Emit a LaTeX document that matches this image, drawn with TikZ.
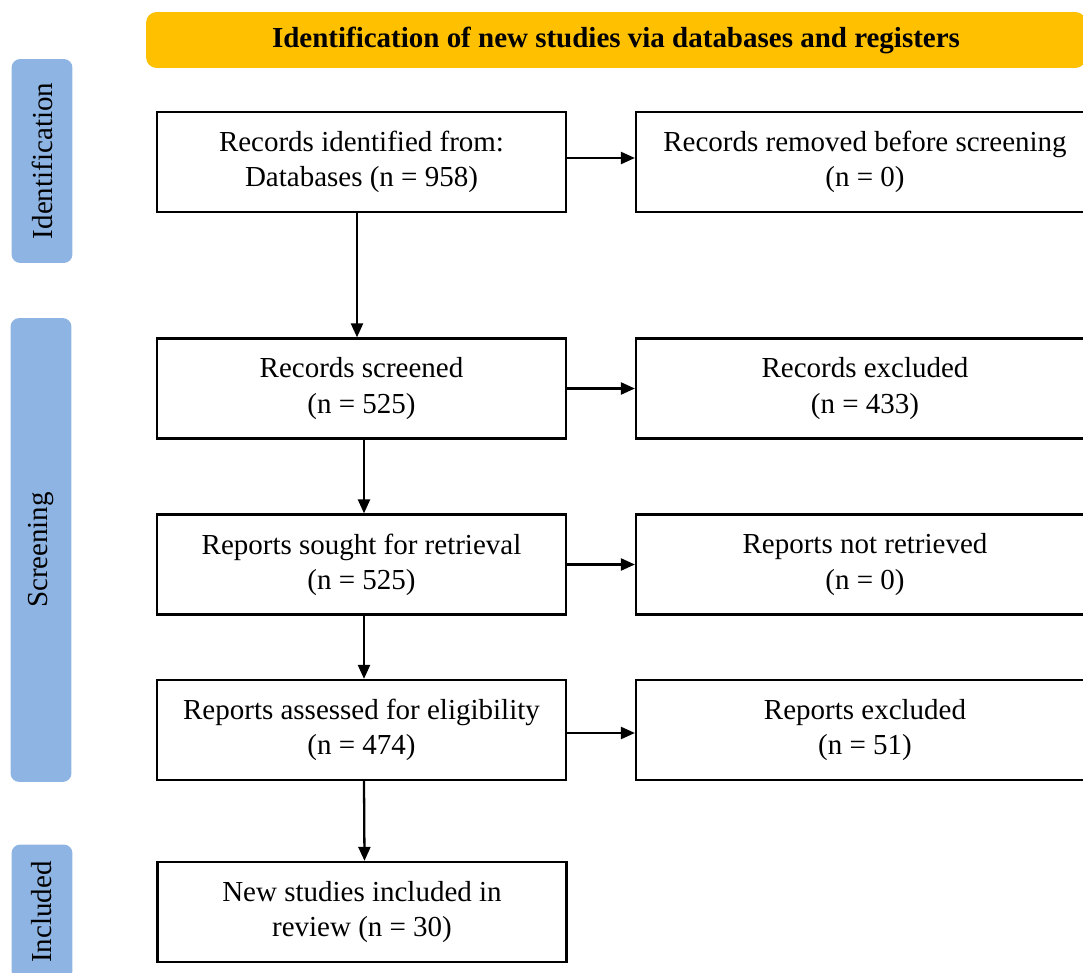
\documentclass[tikz,border=0pt]{standalone}
\usepackage{fontspec}
\setmainfont{Liberation Serif}
\usetikzlibrary{arrows.meta,positioning}
\definecolor{PrismaGold}{HTML}{FFC000}
\definecolor{PrismaBlue}{HTML}{8EB4E3}

\begin{document}
\begin{tikzpicture}[x=0.02cm,y=-0.02cm,
      >={Triangle[length=2.8mm,width=2.4mm]},
      flow/.style={->,line width=1.3pt},
      stagebox/.style={draw,line width=1.3pt,minimum width=8.18cm,
        minimum height=2cm,align=center,font=\fontsize{16.5}{20}\selectfont},
      sidebox/.style={stagebox,minimum width=9.16cm},
      phase/.style={fill=PrismaBlue,rounded corners=5pt,rotate=90,
        minimum height=1.22cm,inner sep=0pt,font=\fontsize{16.5}{20}\selectfont}
    ]
    \clip (0,0) rectangle (1083,973);

    \node[fill=PrismaGold,rounded corners=6pt,minimum width=18.8cm,
      minimum height=1.12cm,font=\fontsize{16.5}{20}\selectfont\bfseries]
      (banner) at (616,40) {Identification of new studies via databases and registers};

    \node[phase,minimum width=4.08cm] (pid) at (42,161) {Identification};
    \node[phase,minimum width=9.28cm] (pscr) at (41,550) {Screening};
    \node[phase,minimum width=2.7cm] (pinc) at (42,912) {Included};

    \node[stagebox] (records) at (361.5,162) {Records identified from:\\Databases (n = 958)};
    \node[sidebox] (removed) at (865,162) {Records removed before screening\\(n = 0)};
    \node[stagebox] (screened) at (361.5,388.5) {Records screened\\(n = 525)};
    \node[sidebox] (excluded) at (865,388.5) {Records excluded\\(n = 433)};
    \node[stagebox] (sought) at (361.5,564.5) {Reports sought for retrieval\\(n = 525)};
    \node[sidebox] (notret) at (865,564.5) {Reports not retrieved\\(n = 0)};
    \node[stagebox] (assessed) at (361.5,730) {Reports assessed for eligibility\\(n = 474)};
    \node[sidebox] (repexcl) at (865,730) {Reports excluded\\(n = 51)};
    \node[stagebox] (included) at (362,912) {New studies included in\\review (n = 30)};

    \draw[flow] ([xshift=-0.09cm]records.south) -- ([xshift=-0.09cm]screened.north);
    \draw[flow] ([xshift=0.05cm]screened.south) -- ([xshift=0.05cm]sought.north);
    \draw[flow] ([xshift=0.05cm]sought.south) -- ([xshift=0.05cm]assessed.north);
    \draw[flow] ([xshift=0.05cm]assessed.south) -- ([xshift=0.05cm]included.north);
    \draw[flow] ([yshift=0.08cm]records.east) -- ([yshift=0.08cm]removed.west);
    \draw[flow] (screened) -- (excluded);
    \draw[flow] (sought) -- (notret);
    \draw[flow] ([yshift=-0.06cm]assessed.east) -- ([yshift=-0.06cm]repexcl.west);
\end{tikzpicture}
\end{document}
